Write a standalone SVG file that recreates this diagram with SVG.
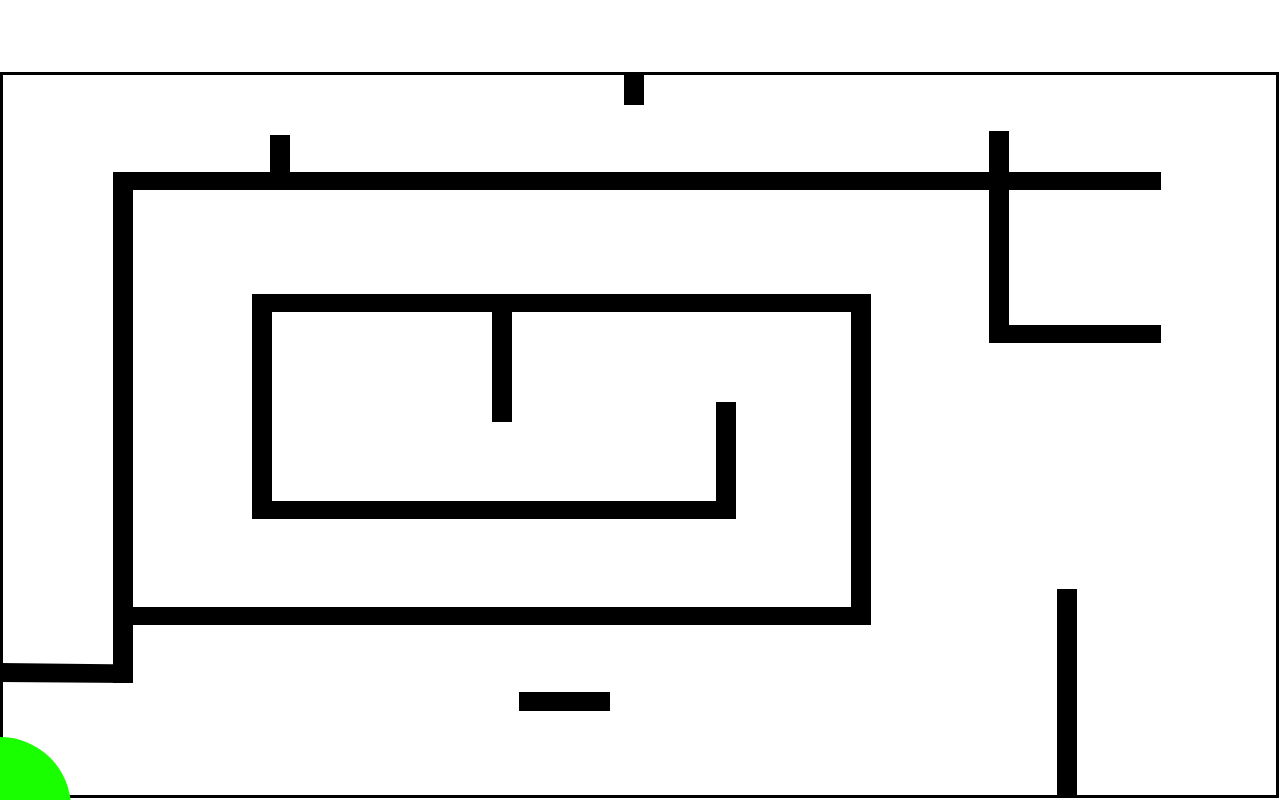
<svg xmlns="http://www.w3.org/2000/svg" width="1280" height="800" viewBox="0 0 1280 800">
<style>
.w{fill:#000}
</style>
<rect width="1280" height="800" fill="#fff"/>
<rect x="1.5" y="73.5" width="1276" height="723" fill="none" stroke="#000" stroke-width="3"/>
<g id="walls">
<rect class="w" x="113" y="172" width="1048" height="18"/>
<rect class="w" x="113" y="172" width="20" height="511"/>
<rect class="w" x="113" y="607" width="758" height="18"/>
<rect class="w" x="851" y="294" width="20" height="331"/>
<rect class="w" x="252" y="294" width="619" height="18"/>
<rect class="w" x="252" y="294" width="20" height="225"/>
<rect class="w" x="252" y="501" width="484" height="18"/>
<rect class="w" x="716" y="402" width="20" height="117"/>
<rect class="w" x="492" y="294" width="20" height="128"/>
<rect class="w" x="989" y="131" width="20" height="212"/>
<rect class="w" x="989" y="325" width="172" height="18"/>
<rect class="w" x="270" y="135" width="20" height="37"/>
<rect class="w" x="624" y="72" width="20" height="33"/>
<polygon class="w" points="0,663 133,664.5 133,683 0,682"/>
<rect class="w" x="519" y="692" width="91" height="19"/>
<rect class="w" x="1057" y="589" width="20" height="208"/>
</g>
<circle id="goal" cx="0" cy="808" r="71" fill="#1aff00"/>
</svg>
